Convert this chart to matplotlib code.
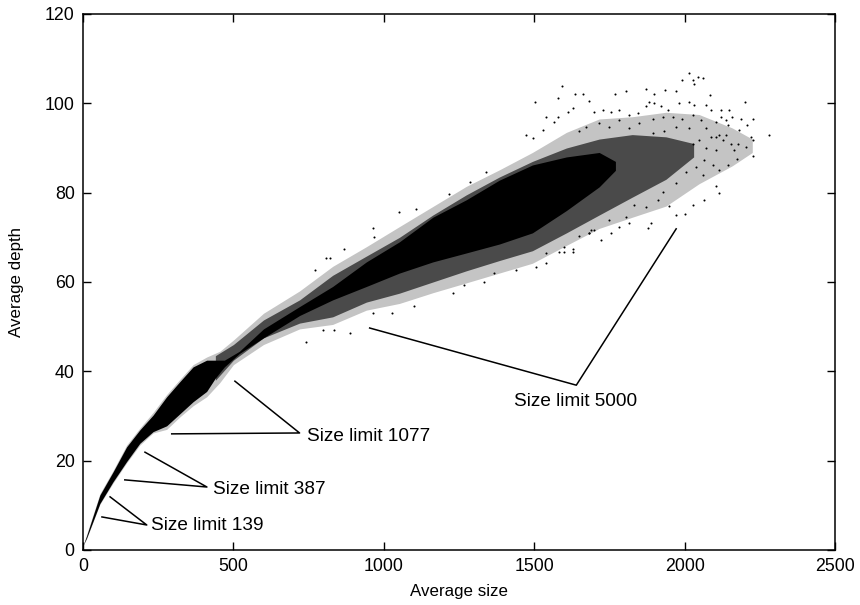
import matplotlib
matplotlib.use("Agg")
import matplotlib.pyplot as plt

plt.rcParams['font.family'] = ['Liberation Sans', 'DejaVu Sans']

# Outer edge of the cloud
halo_x = [0, 12, 56, 100, 145, 189, 233, 278, 322, 366, 411, 455, 500, 600, 720, 830, 942, 1052, 1163, 1274, 1384, 1494, 1607, 1716, 1826, 1938, 2048, 2158, 2225]
halo_low = [1, 2.5, 10.2, 15, 19.5, 23.5, 26.2, 27.0, 29.8, 32.3, 34.3, 37.5, 41.5, 46, 49.5, 50.5, 53.7, 55.2, 57.6, 59.8, 62, 64.2, 68.2, 72, 74.5, 77, 82, 86, 89]
halo_up = [1, 3.5, 12.6, 17.8, 23.5, 27.3, 30.8, 34.8, 38.2, 41.5, 43.2, 44.5, 47, 53, 58, 63.5, 67.9, 72.4, 76.9, 81.4, 85.1, 89, 93.5, 96.5, 97, 98, 97.5, 94.5, 92]

# Speckled but dark part of the cloud
mid_x = [440, 500, 600, 720, 830, 942, 1052, 1163, 1274, 1384, 1494, 1607, 1716, 1826, 1938, 2030]
mid_low = [38, 42.5, 47.5, 50.8, 52.2, 55.5, 57.5, 60, 62.5, 64.8, 67, 71, 75, 79, 83, 88]
mid_up = [43.5, 46, 51.5, 56, 61.5, 65.8, 70, 75, 79.5, 83.5, 87, 90, 92, 93, 92.5, 91]

# Solid black core
core_x = [0, 12, 56, 100, 145, 189, 233, 278, 322, 366, 411, 440, 470, 520, 600, 720, 830, 942, 1052, 1163, 1274, 1384, 1494, 1607, 1716, 1770]
core_low = [1, 2.7, 10.4, 15.3, 19.8, 23.9, 26.5, 27.8, 30.5, 33.2, 35.5, 38.5, 41, 44, 47.5, 52.5, 56, 59, 62, 64.5, 66.5, 68.5, 71, 76, 81.3, 85]
core_up = [1, 3.2, 12.3, 17.5, 23.1, 26.9, 30.2, 34.3, 37.7, 41.0, 42.5, 42.5, 42.5, 44.5, 49.5, 54.5, 59, 64.5, 69, 74.5, 78.4, 82.8, 86.2, 88, 89, 87]

# Individually readable stray dots
dot_x = [2016, 2043, 2060, 2027, 1993, 2032, 1593, 1504, 1578, 1634, 1661, 1683, 1770, 1805, 1872, 1899, 1936, 1971,
         2084, 2200, 2226, 2187, 2209, 2281, 2226, 2220, 2182, 2159, 2121, 2148, 2137, 2176, 2165, 2204, 2229, 2174,
         2143, 2115, 2060, 2113, 2104, 2027, 2065, 2002, 1971, 1949, 1888, 1877, 1816, 1722, 1755, 1683, 1628, 1584,
         1052, 964, 969, 869, 809, 822, 770, 1107, 1218, 1285, 1340, 1028, 964, 1102, 886, 836, 797, 742, 1229, 1268,
         1334, 1368, 1440, 1506, 1539, 1600, 1628, 1683, 1700,
         1628, 1612, 1578, 1567, 1540, 1528, 1495, 1473, 1700, 1728, 1755, 1783, 1816, 1844, 1872, 1883, 1899, 1921,
         1944, 1982, 2016, 2032, 2071, 2088, 2121, 2104, 2143, 2115, 2088, 2126, 2154, 2071, 2104, 2065, 2093, 2038,
         2005, 1971, 1927, 1910, 1872, 1833, 1805, 1783, 1750, 1689, 1650, 1600, 1540,
         1672, 1650, 1717, 1750, 1783, 1816, 1850, 1894, 1927, 1960, 1993, 2027, 2054, 2016, 1971, 1932, 1894, 2104,
         2027, 2049, 2071, 2137]
dot_y = [106.7, 106, 105.6, 105.2, 105.2, 104.3, 103.9, 100.2, 101.3, 102.2, 102.2, 100.6, 102.2, 102.8, 103.2, 102.2, 103, 102.8,
         101.9, 100.2, 96.6, 96.6, 95.2, 92.8, 91.8, 92.4, 94, 97, 98.5, 98.5, 96.3, 91, 89.6, 90.3, 88.1, 87.5,
         86.2, 85.1, 84, 79.9, 81.4, 77.2, 78.4, 75.2, 75, 77.1, 73.1, 72, 73.1, 69.3, 70.9, 70.9, 66.8, 66.8,
         75.6, 72.2, 70.1, 67.3, 65.3, 65.3, 62.7, 76.3, 79.8, 82.5, 84.7, 53, 53, 54.6, 48.5, 49.3, 49.3, 46.6, 57.5, 59.3,
         60.1, 62, 62.7, 63.4, 64.2, 66.8, 67.5, 70.9, 71.6,
         98.9, 98.1, 97, 95.9, 97, 94, 92.2, 92.9, 98.1, 98.5, 98.1, 98.5, 97.4, 97.8, 99.3, 100.4, 100, 99.3,
         98.5, 100, 100.4, 99.6, 99.6, 98.5, 97, 95.9, 95.2, 92.9, 92.5, 91.8, 91, 89.9, 89.6, 87.3, 86.2, 85.8,
         84.7, 82.1, 80.2, 78.4, 76.9, 77.2, 74.6, 72.4, 73.9, 71.7, 70.2, 67.9, 66.4,
         94.8, 93.7, 95.5, 94.8, 96.3, 94.4, 95.5, 96.6, 97, 97, 96.6, 97.4, 96.3, 94.4, 94.8, 93.7, 93.3, 92.5,
         91, 91.8, 94.4, 92.9]

x_ticks = [0, 500, 1000, 1500, 2000, 2500]
y_ticks = [0, 20, 40, 60, 80, 100, 120]

labels = ["Size limit 5000", "Size limit 1077", "Size limit 387", "Size limit 139"]
label_x = [1434, 744, 432, 226]
label_y = [33.2, 25.3, 13.5, 5.4]
leader_x = [[953, 1640, 1972], [505, 720, 295], [206, 412, 139], [90, 212, 63]]
leader_y = [[49.7, 36.9, 71.9], [37.8, 26.2, 26.0], [21.9, 14.1, 15.7], [11.9, 5.6, 7.4]]

fig = plt.figure(figsize=(8.6, 6.05), dpi=100)
ax = fig.add_axes([83 / 860, 55 / 605, 752 / 860, 536 / 605])

ax.fill_between(halo_x, halo_low, halo_up, color="#c4c4c4", lw=0)
ax.fill_between(mid_x, mid_low, mid_up, color="#4a4a4a", lw=0)
ax.fill_between(core_x, core_low, core_up, color="black", lw=0)
ax.scatter(dot_x, dot_y, s=2.2, c="black", lw=0)

for xs, ys in zip(leader_x, leader_y):
    ax.plot(xs, ys, color="black", lw=1.1)
for t, x, y in zip(labels, label_x, label_y):
    ax.text(x, y, t, fontsize=13.7, va="center", ha="left", color="black")

ax.set_xlim(0, 2500)
ax.set_ylim(0, 120)
ax.set_xticks(x_ticks)
ax.set_yticks(y_ticks)
ax.tick_params(direction="in", length=6, width=1, top=True, right=True, labelsize=12.8, pad=6)
for s in ax.spines.values():
    s.set_linewidth(1.1)
ax.set_xlabel("Average size", fontsize=12.2, labelpad=6)
ax.set_ylabel("Average depth", fontsize=12.2, labelpad=15)

fig.savefig("out.png", dpi=100)
